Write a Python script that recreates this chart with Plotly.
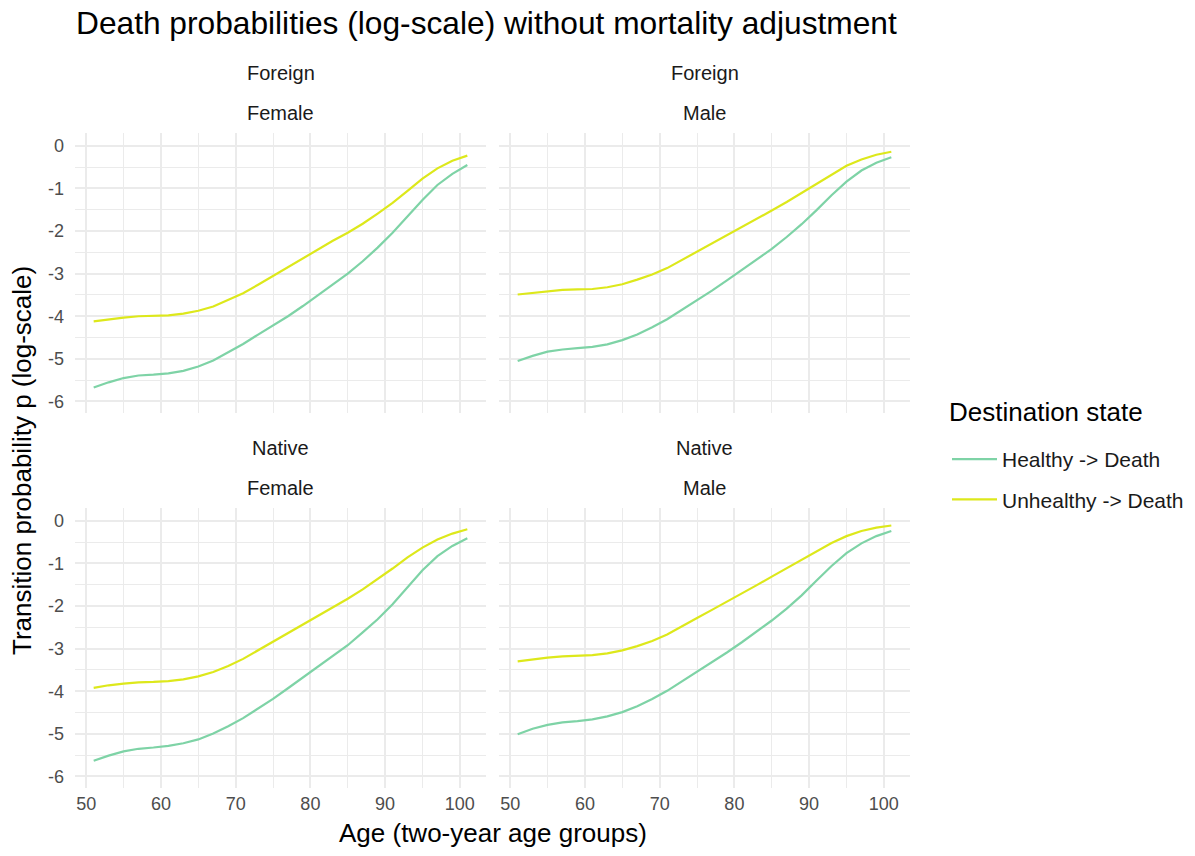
import plotly.graph_objects as go

ages = list(range(51, 102, 2))

panels = [("Foreign", "Female"), ("Foreign", "Male"), ("Native", "Female"), ("Native", "Male")]
states = ["Healthy -> Death", "Unhealthy -> Death"]

foreign_female_healthy = [-5.67, -5.55, -5.45, -5.39, -5.37, -5.34, -5.28, -5.18, -5.04, -4.85, -4.65, -4.43, -4.22,
                          -4.00, -3.76, -3.51, -3.26, -3.00, -2.71, -2.39, -2.04, -1.66, -1.27, -0.92, -0.66, -0.45]
foreign_female_unhealthy = [-4.12, -4.07, -4.03, -4.00, -3.99, -3.98, -3.94, -3.87, -3.77, -3.62, -3.46, -3.26, -3.05,
                            -2.85, -2.63, -2.43, -2.23, -2.04, -1.83, -1.59, -1.34, -1.06, -0.77, -0.53, -0.35, -0.23]
foreign_male_healthy = [-5.05, -4.93, -4.83, -4.78, -4.75, -4.72, -4.66, -4.56, -4.43, -4.26, -4.07, -3.85, -3.63,
                        -3.40, -3.16, -2.92, -2.67, -2.42, -2.14, -1.84, -1.51, -1.16, -0.84, -0.58, -0.40, -0.27]
foreign_male_unhealthy = [-3.49, -3.45, -3.41, -3.38, -3.37, -3.36, -3.32, -3.25, -3.14, -3.02, -2.87, -2.68, -2.48,
                          -2.30, -2.11, -1.92, -1.72, -1.52, -1.32, -1.11, -0.89, -0.67, -0.47, -0.32, -0.21, -0.14]
native_female_healthy = [-5.63, -5.51, -5.41, -5.35, -5.32, -5.28, -5.22, -5.13, -4.99, -4.82, -4.63, -4.41, -4.18,
                         -3.93, -3.68, -3.43, -3.18, -2.92, -2.62, -2.31, -1.96, -1.56, -1.16, -0.83, -0.59, -0.41]
native_female_unhealthy = [-3.92, -3.86, -3.82, -3.79, -3.78, -3.76, -3.72, -3.65, -3.55, -3.41, -3.24, -3.04, -2.84,
                           -2.64, -2.43, -2.23, -2.03, -1.83, -1.61, -1.37, -1.12, -0.86, -0.63, -0.44, -0.30, -0.20]
native_male_healthy = [-5.01, -4.88, -4.79, -4.73, -4.70, -4.66, -4.59, -4.49, -4.35, -4.18, -3.99, -3.77, -3.55,
                       -3.32, -3.09, -2.85, -2.60, -2.34, -2.06, -1.75, -1.40, -1.06, -0.76, -0.53, -0.36, -0.24]
native_male_unhealthy = [-3.30, -3.25, -3.21, -3.18, -3.17, -3.15, -3.11, -3.04, -2.94, -2.82, -2.67, -2.47, -2.28,
                         -2.09, -1.90, -1.70, -1.51, -1.31, -1.11, -0.91, -0.71, -0.52, -0.36, -0.24, -0.16, -0.11]

series = [
    (foreign_female_healthy, foreign_female_unhealthy),
    (foreign_male_healthy, foreign_male_unhealthy),
    (native_female_healthy, native_female_unhealthy),
    (native_male_healthy, native_male_unhealthy),
]

x_ticks = [50, 60, 70, 80, 90, 100]
x_tick_labels = ["50", "60", "70", "80", "90", "100"]
y_ticks = [0, -1, -2, -3, -4, -5, -6]
y_tick_labels = ["0", "-1", "-2", "-3", "-4", "-5", "-6"]

colors = ["#7ed3a6", "#dde81b"]

FONT = "Liberation Sans, Arial"
W, H = 1195, 856
px_x = [(75, 486), (499, 910), (75, 486), (499, 910)]
px_y = [(133, 413), (133, 413), (508, 788), (508, 788)]

fig = go.Figure()
layout = {}
for i in range(4):
    n = "" if i == 0 else str(i + 1)
    for j, vals in enumerate(series[i]):
        fig.add_trace(go.Scatter(
            x=ages, y=vals, mode="lines", name=states[j],
            line=dict(color=colors[j], width=2.2),
            xaxis="x" + n, yaxis="y" + n,
            legendgroup=states[j], showlegend=(i == 0),
        ))
    x0, x1 = px_x[i]
    y0, y1 = px_y[i]
    grid = "#ebebeb"
    layout["xaxis" + n] = dict(
        domain=[x0 / W, x1 / W], anchor="y" + n, range=[48.5, 103.5],
        tickvals=x_ticks, ticktext=x_tick_labels, showticklabels=(i >= 2),
        showgrid=True, gridcolor=grid, gridwidth=2,
        minor=dict(dtick=5, tick0=45, showgrid=True, gridcolor=grid, gridwidth=1.2),
        zeroline=False, showline=False, ticks="",
        tickfont=dict(family=FONT, size=18, color="#4d4d4d"),
        ticklabelstandoff=3,
    )
    layout["yaxis" + n] = dict(
        domain=[1 - y1 / H, 1 - y0 / H], anchor="x" + n, range=[-6.27, 0.3],
        tickvals=y_ticks, ticktext=y_tick_labels, showticklabels=(i % 2 == 0),
        showgrid=True, gridcolor=grid, gridwidth=2,
        minor=dict(dtick=0.5, tick0=0, showgrid=True, gridcolor=grid, gridwidth=1.2),
        zeroline=False, showline=False, ticks="",
        tickfont=dict(family=FONT, size=18, color="#4d4d4d"),
        ticklabelstandoff=10,
    )

annotations = []
for i, (a, b) in enumerate(panels):
    cx = (px_x[i][0] + px_x[i][1]) / 2 / W
    top = px_y[i][0]
    for txt, yy in ((a, top - 60), (b, top - 20)):
        annotations.append(dict(
            text=txt, x=cx, y=1 - yy / H, xref="paper", yref="paper",
            xanchor="center", yanchor="middle", showarrow=False,
            font=dict(family=FONT, size=20, color="#1a1a1a"),
        ))

annotations.append(dict(
    text="Age (two-year age groups)", x=(75 + 910) / 2 / W, y=1 - 833 / H,
    xref="paper", yref="paper", xanchor="center", yanchor="middle", showarrow=False,
    font=dict(family=FONT, size=26, color="#000000"),
))
annotations.append(dict(
    text="Transition probability p (log-scale)", x=22 / W, y=1 - 461 / H,
    xref="paper", yref="paper", xanchor="center", yanchor="middle", showarrow=False,
    textangle=-90,
    font=dict(family=FONT, size=26, color="#000000"),
))
annotations.append(dict(
    text="Destination state", x=947 / W, y=1 - 412 / H,
    xref="paper", yref="paper", xanchor="left", yanchor="middle", showarrow=False,
    font=dict(family=FONT, size=26, color="#000000"),
))

fig.update_layout(
    **layout,
    width=W, height=H,
    margin=dict(l=0, r=0, t=0, b=0),
    paper_bgcolor="white", plot_bgcolor="white",
    title=dict(
        text="Death probabilities (log-scale) without mortality adjustment",
        x=76 / W, xanchor="left", y=1 - 23 / H, yanchor="middle",
        font=dict(family=FONT, size=31.7, color="#000000"),
    ),
    legend=dict(
        x=947 / W, y=1 - 439 / H, xanchor="left", yanchor="top",
        font=dict(family=FONT, size=21, color="#1a1a1a"),
        tracegroupgap=10, itemwidth=45, bgcolor="rgba(0,0,0,0)",
    ),
    annotations=annotations,
    showlegend=True,
)

fig.write_html("out.html")
